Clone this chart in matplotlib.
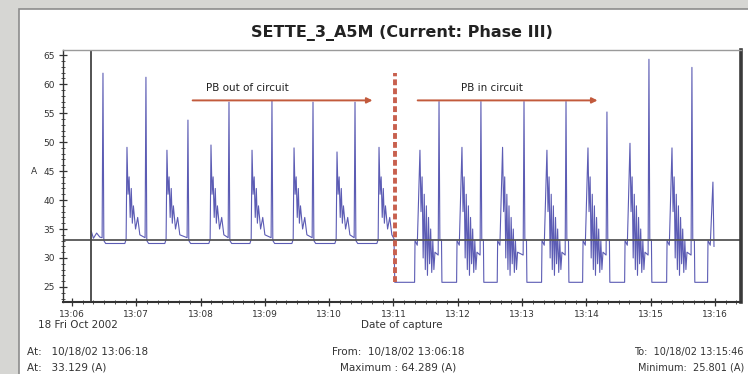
import matplotlib.pyplot as plt
from matplotlib.patches import Rectangle
from matplotlib.ticker import MultipleLocator

# time axis: seconds after 13:06:00, current in A
tick_labels = ['13:06', '13:07', '13:08', '13:09', '13:10', '13:11',
               '13:12', '13:13', '13:14', '13:15', '13:16']

# PB out of circuit (13:06 - 13:11)
start_t = [18, 20, 23, 26]
start_a = [34.6, 33.4, 34.3, 33.6]
tall_out_t = [28.9, 69.0, 108.2, 146.5, 186.6, 224.9, 264.1]
tall_out_a = [61.9, 61.2, 53.8, 56.9, 57.2, 56.9, 56.9]
short_out_t = [51.3, 88.6, 129.7, 168.0, 207.2, 247.3, 286.5]
short_out_a = [49.1, 48.6, 49.5, 48.6, 49.0, 48.3, 49.1]
out_decay_dt = [1, 2, 3, 4, 5, 6, 8, 10, 12]
out_decay_a = [41, 44, 37, 42, 36, 39, 35, 37, 34]
base_out = 32.5

# PB in circuit (13:11 - 13:16)
short_in_t = [324.7, 363.9, 401.8, 443.2, 481.5, 520.7, 559.9, 598.1]
short_in_a = [48.6, 49.1, 49.1, 48.6, 49.0, 49.8, 49.0, 43.1]
tall_in_t = [342.5, 381.6, 421.8, 461.0, 499.2, 538.4, 578.5]
tall_in_a = [57.0, 57.0, 57.0, 57.0, 55.2, 64.3, 62.9]
in_decay_dt = [1, 2, 3, 4, 5, 6, 7, 8, 9, 10, 11, 12, 13, 14]
in_decay_a = [38, 44, 30, 41, 28, 39, 27, 37, 29, 35, 27.5, 33, 28, 31]
base_in = 25.8

cursor_t, cursor_a = 18, 33.129
switch_t = 301

# assemble the trace
t, a = list(start_t), list(start_a)
t += [tall_out_t[0] - 0.8, tall_out_t[0], tall_out_t[0] + 0.8, tall_out_t[0] + 2.5]
a += [33.5, tall_out_a[0], 33.0, base_out]
for i, ts in enumerate(short_out_t):
    t += [ts - 2, ts - 0.8, ts] + [ts + d for d in out_decay_dt]
    a += [base_out, 33.2, short_out_a[i]] + out_decay_a
    if i + 1 < len(tall_out_t):
        tt = tall_out_t[i + 1]
        t += [tt - 0.8, tt, tt + 0.8, tt + 2.5]
        a += [33.5, tall_out_a[i + 1], 33.0, base_out]
t += [300.5, switch_t + 0.2]
a += [33.3, base_in]
for i, ts in enumerate(short_in_t):
    t += [ts - 5, ts - 4.6, ts - 2.5, ts]
    a += [base_in, 33.0, 32.2, short_in_a[i]]
    if i < len(tall_in_t):
        tt = tall_in_t[i]
        t += [ts + d for d in in_decay_dt] + [tt - 0.8, tt, tt + 0.8, tt + 2.3, tt + 2.7]
        a += in_decay_a + [30.5, tall_in_a[i], 33.0, 33.2, base_in]
    else:
        t += [ts + 1]
        a += [32.0]

W, H = 748, 374
fig = plt.figure(figsize=(W / 100, H / 100), dpi=100, facecolor='#d6d6d3')
fig.patches.append(Rectangle((19 / W, -0.1), 1, 1.1 - 9 / H, transform=fig.transFigure,
                             facecolor='white', edgecolor='#8c8c8c', lw=1.2, zorder=-10))

ax = fig.add_axes([63 / W, 1 - 302 / H, (741 - 63) / W, (302 - 50) / H])
ax.set_facecolor('white')
ax.plot(t, a, color='#5c5cb4', lw=0.8)
ax.axhline(cursor_a, color='#555555', lw=1.3)
ax.axvline(cursor_t, color='#444444', lw=1.3)
ax.vlines(switch_t, base_in, 62, colors='#c8604e', lw=2.8, linestyles=(0, (1.5, 0.8)))

arrow = dict(arrowstyle='-|>', color='#c25a3c', lw=1.4, mutation_scale=8)
ax.annotate('', xy=(283, 57.2), xytext=(110, 57.2), arrowprops=arrow)
ax.annotate('', xy=(493, 57.2), xytext=(320, 57.2), arrowprops=arrow)
ax.text(164, 59.3, 'PB out of circuit', fontsize=7.5, ha='center', va='center', color='#222222')
ax.text(392, 59.3, 'PB in circuit', fontsize=7.5, ha='center', va='center', color='#222222')

ax.set_xlim(-8.4, 624.3)
ax.set_ylim(22.4, 65.9)
ax.set_xticks(range(0, 601, 60))
ax.set_xticklabels(tick_labels)
ax.xaxis.set_minor_locator(MultipleLocator(10))
ax.set_yticks(range(25, 66, 5))
ax.yaxis.set_minor_locator(MultipleLocator(1))
ax.tick_params(which='major', direction='inout', length=6, width=0.9, labelsize=6.5, pad=3, colors='#333333')
ax.tick_params(which='minor', direction='inout', length=3, width=0.6, colors='#333333')

for side, lw, col in [('left', 1.0, '#333333'), ('bottom', 1.5, '#333333'),
                      ('right', 2.6, '#3a3a3a'), ('top', 1.0, '#9a9a9a')]:
    ax.spines[side].set_linewidth(lw)
    ax.spines[side].set_color(col)

fig.text(402 / W, 1 - 33 / H, 'SETTE_3_A5M (Current: Phase III)', fontsize=11.5,
         fontweight='bold', ha='center', va='center', color='#222222')
fig.text(34 / W, 1 - 171 / H, 'A', fontsize=6.5, ha='center', va='center', color='#333333')
fig.text(38 / W, 1 - 325 / H, '18 Fri Oct 2002', fontsize=7.5, ha='left', va='center', color='#333333')
fig.text(402 / W, 1 - 325 / H, 'Date of capture', fontsize=7.5, ha='center', va='center', color='#333333')

fig.text(27 / W, 1 - 352 / H, 'At:   10/18/02 13:06:18', fontsize=7.5, va='center', color='#333333')
fig.text(27 / W, 1 - 367 / H, 'At:   33.129 (A)', fontsize=7.5, va='center', color='#333333')
fig.text(398 / W, 1 - 352 / H, 'From:  10/18/02 13:06:18', fontsize=7.5, ha='center', va='center', color='#333333')
fig.text(398 / W, 1 - 367 / H, 'Maximum : 64.289 (A)', fontsize=7.5, ha='center', va='center', color='#333333')
fig.text(744 / W, 1 - 352 / H, 'To:  10/18/02 13:15:46', fontsize=7, ha='right', va='center', color='#333333')
fig.text(744 / W, 1 - 367 / H, 'Minimum:  25.801 (A)', fontsize=7, ha='right', va='center', color='#333333')

fig.savefig('out.png', dpi=100, facecolor=fig.get_facecolor())
